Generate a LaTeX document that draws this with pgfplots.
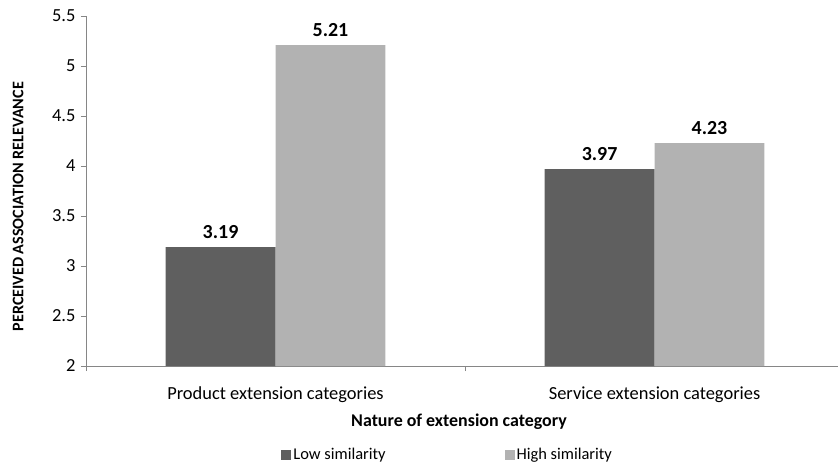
\documentclass[border=0pt]{standalone}
\usepackage{pgfplots}
\pgfplotsset{compat=1.18}
\usepackage{fontspec}
\setmainfont{Carlito}
\definecolor{darkbar}{HTML}{5F5F5F}
\definecolor{lightbar}{HTML}{B2B2B2}
\definecolor{axisgray}{HTML}{868686}
\begin{document}
\begin{tikzpicture}
\begin{axis}[
  at={(0,0)}, anchor=south west,
  scale only axis,
  width=752bp, height=350bp,
  xmin=-0.5, xmax=1.484,
  ymin=2, ymax=5.5,
  ytick={2,2.5,3,3.5,4,4.5,5,5.5},
  xtick={0,1},
  xticklabels={Product extension categories, Service extension categories},
  minor xtick={-0.5,0.5,1.5},
  axis x line=bottom, axis y line=left,
  axis line style={axisgray, -},
  tick style={axisgray, line width=0.8pt},
  major x tick style={draw=none},
  tick align=outside,
  major tick length=5bp, minor tick length=5bp,
  /pgf/number format/assume math mode=true,
  yticklabel style={font=\fontsize{18.5}{21}\selectfont, xshift=-2bp},
  xticklabel style={font=\fontsize{18.5}{21}\selectfont, anchor=center, yshift=-24bp},
  xlabel={Nature of extension category},
  xlabel style={font=\fontsize{18}{21}\selectfont\bfseries, at={(axis description cs:0.496,-0.158)}, anchor=center},
  ylabel={PERCEIVED ASSOCIATION RELEVANCE},
  ylabel style={font=\fontsize{16.2}{19}\selectfont\bfseries, at={(axis description cs:-0.0904,0.455)}, anchor=center},
  ybar, bar width=0.29,
  point meta=explicit symbolic,
  nodes near coords,
  every node near coord/.append style={font=\fontsize{20}{24}\selectfont\bfseries, anchor=south, yshift=5bp},
  legend columns=2,
  legend style={draw=none, fill=none, at={(axis description cs:0.481,-0.254)}, anchor=center,
    font=\fontsize{16.5}{19}\selectfont,
    /tikz/every even column/.append style={column sep=117bp}},
  legend image code/.code={\fill[#1] (-1bp,-5bp) rectangle (9bp,5bp);},
]
\addplot[fill=darkbar, draw=none, bar shift=-0.145] coordinates {(0,3.19)[3.19] (1,3.97)[3.97]};
\addplot[fill=lightbar, draw=none, bar shift=0.145] coordinates {(0,5.21)[5.21] (1,4.23)[4.23]};
\legend{Low similarity, High similarity}
\end{axis}
\pgfresetboundingbox
\path[use as bounding box] (-86bp,-102bp) rectangle (752bp,366bp);
\end{tikzpicture}
\end{document}
